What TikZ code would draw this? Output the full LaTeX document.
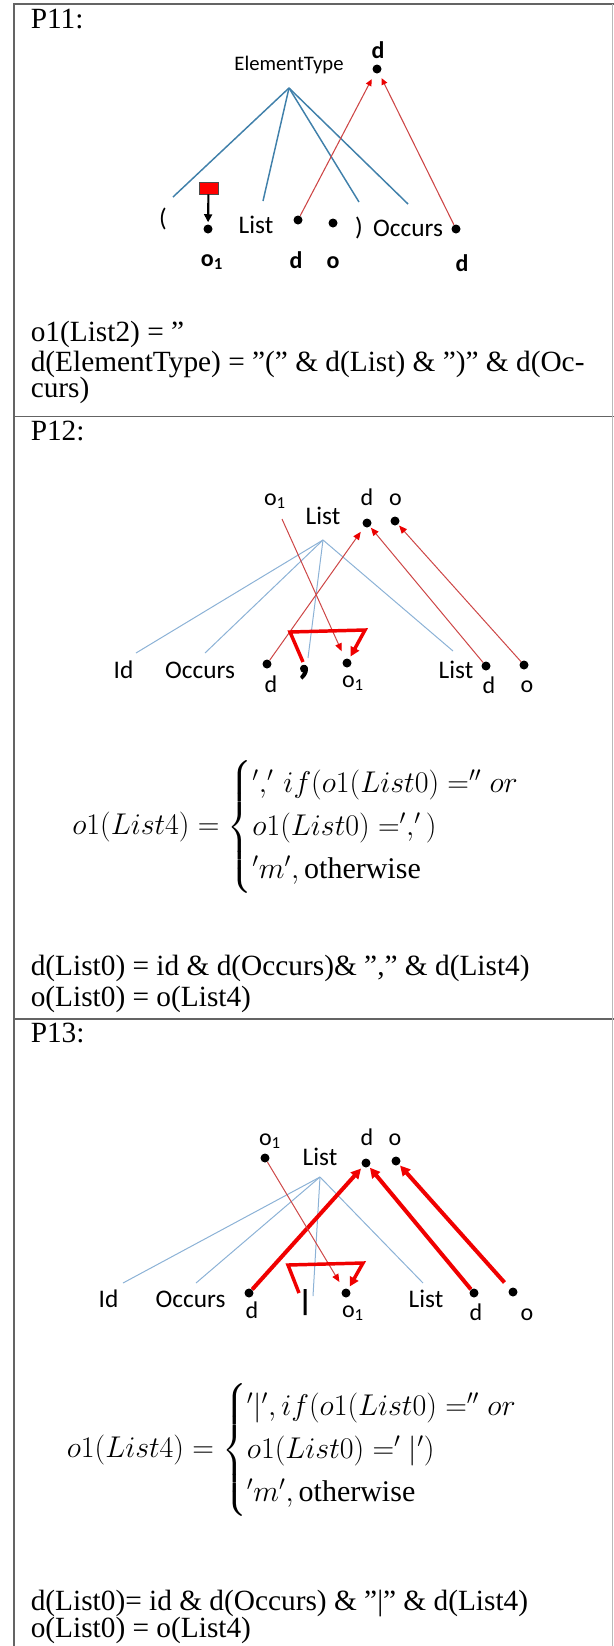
\RequirePackage{fix-cm}
\documentclass[tikz,border=0pt]{standalone}
\usepackage{amsmath}
\usepackage{fontspec}
\setmainfont{Liberation Serif}
\newfontfamily\calfont{Carlito}
\newfontfamily\calheavy[FakeBold=4]{Carlito}
\usetikzlibrary{arrows.meta}
\definecolor{treeblue}{RGB}{64,128,170}
\definecolor{treelight}{RGB}{140,178,214}
\definecolor{redthin}{RGB}{205,70,70}
\definecolor{redhead}{RGB}{235,0,0}
\definecolor{redbold}{RGB}{240,0,0}
\definecolor{bordergray}{RGB}{100,100,100}
\definecolor{edgegray}{RGB}{185,185,185}
\begin{document}
\begin{tikzpicture}[x=0.75pt,y=-0.75pt,
  body/.style={font=\fontsize{22}{26}\selectfont, inner sep=0, anchor=base west},
  word/.style={font=\calfont\fontsize{19}{22}\selectfont, inner sep=0, anchor=base},
  etword/.style={font=\calfont\fontsize{15.5}{18}\selectfont, inner sep=0, anchor=base},
  small/.style={font=\calfont\fontsize{18}{20}\selectfont, inner sep=0, anchor=base},
  bsmall/.style={font=\calfont\bfseries\fontsize{18}{20}\selectfont, inner sep=0, anchor=base},
  blackdot/.style={circle, fill=black, inner sep=0, minimum size=6.75pt},
  treeA/.style={draw=treeblue, line width=1.1pt},
  treeB/.style={draw=treelight, line width=0.75pt},
  redA/.style={draw=redthin, line width=0.8pt, -{Triangle[length=5pt,width=4.5pt,color=redhead]}},
  redB/.style={draw=redthin, line width=0.75pt, -{Triangle[length=6pt,width=5pt,color=redhead]}},
  redC/.style={draw=redbold, line width=3pt, -{Triangle[length=7.5pt,width=7.5pt]}},
  brk/.style={draw=redbold, line width=2.6pt, line join=miter, -{Triangle[length=7pt,width=7pt]}},
  border/.style={draw=bordergray, line width=1.1pt},
  eq/.style={inner sep=0, anchor=west, font=\fontsize{22.5}{27}\selectfont}
]
\useasboundingbox (0,0) rectangle (614,1646);

% table lines
\draw[border] (14,1646) -- (14,4) -- (614,4);
\draw[border] (14,416.7) -- (614,416.7);
\draw[border] (14,1019) -- (614,1019);
\draw[draw=edgegray, line width=0.9pt] (612.7,4) -- (612.7,1646);

% ================= P11 =================
\node[body] (p11) at (30.5,28) {P11:};
\node[etword] (et) at (289,70) {ElementType};
\coordinate (a1) at (289,88);
\node[font=\calfont\fontsize{19}{22}\selectfont, inner sep=0] (lp) at (163,219) {(};
\node[word] (list11) at (256,233) {List};
\node[font=\calfont\fontsize{19}{22}\selectfont, inner sep=0] (rp) at (359,228) {)};
\node[word] (occ11) at (408,236) {Occurs};
\coordinate (e11a) at (173,197);
\coordinate (e11b) at (263,201);
\coordinate (e11c) at (359,202);
\coordinate (e11d) at (408,204);
\draw[treeA] (a1) -- (e11a);
\draw[treeA] (a1) -- (e11b);
\draw[treeA] (a1) -- (e11c);
\draw[treeA] (a1) -- (e11d);

\node[blackdot] (o1d11) at (208,229) {};
\node[blackdot] (dd11) at (298,220) {};
\node[blackdot] (od11) at (333,223) {};
\node[blackdot] (rd11) at (456,229) {};
\node[blackdot] (td11) at (377,69) {};
\node[bsmall] (lo111) at (212,266) {o\textsubscript{1}};
\node[bsmall] (ld11) at (296,268) {d};
\node[bsmall] (lo11) at (333,268) {o};
\node[bsmall] (lrd11) at (462,271) {d};
\node[bsmall] (ltd11) at (378,58) {d};

\node[draw=black!70, fill=red, line width=0.5pt, minimum width=14.25pt, minimum height=9pt, inner sep=0] (rect11) at (208.5,188) {};
\draw[black, line width=1.6pt, shorten >=1.5pt, -{Triangle[length=6pt,width=6pt]}] (rect11) -- (o1d11);

\draw[redA, shorten >=5pt] (dd11) -- (td11);
\draw[redA, shorten >=4pt] (rd11) -- (td11);

\node[body] (t11a) at (30.5,341.5) {o1(List2) = ”};
\node[body] (t11b) at (30.5,371.5) {d(ElementType) = ”(” \& d(List) \& ”)” \& d(Oc-};
\node[body] (t11c) at (30.5,397) {curs)};

% ================= P12 =================
\node[body] (p12) at (30.5,440) {P12:};
\node[small] (to1l12) at (275,505) {o\textsubscript{1}};
\node[word] (tlist12) at (323,524) {List};
\node[small] (tdl12) at (367,505) {d};
\node[small] (tol12) at (395.5,505) {o};
\node[blackdot] (td12) at (367,523) {};
\node[blackdot] (to12) at (395,521) {};
\coordinate (o1s12) at (282,519);
\coordinate (a2) at (323,540);

\node[word] (id12) at (123.5,678) {Id};
\node[word] (occ12) at (200,678.5) {Occurs};
\node[blackdot] (bd12) at (267,664) {};
\node[small] (bdl12) at (271,692) {d};
\node[font=\calheavy\fontsize{38}{40}\selectfont, inner sep=0] (comma12) at (304,672) {,};
\node[blackdot] (bo112) at (347,663) {};
\node[small] (bo1l12) at (353,687) {o\textsubscript{1}};
\node[word] (list12) at (456,678) {List};
\node[blackdot] (rd12) at (486,666) {};
\node[small] (rdl12) at (489,693) {d};
\node[blackdot] (ro12) at (524,665) {};
\node[small] (rol12) at (527,692) {o};

\coordinate (e12a) at (136,653);
\coordinate (e12b) at (205,653);
\coordinate (e12c) at (308,658);
\coordinate (e12d) at (453,651);
\draw[treeB] (a2) -- (e12a);
\draw[treeB] (a2) -- (e12b);
\draw[treeB] (a2) -- (e12c);
\draw[treeB] (a2) -- (e12d);

\draw[redB, shorten >=4.5pt] (bd12) -- (td12);
\draw[redB, shorten >=1pt] (rd12) -- (td12);
\draw[redB, shorten >=1pt] (ro12) -- (to12);
\draw[redB, shorten >=6pt] (o1s12) -- (bo112);

\coordinate (c12s) at (303,662);
\draw[brk, shorten >=2pt] (c12s) -- (290,632) -- (365,630) -- (bo112);

\node[eq] (eq12) at (72,827) {$o1(List4) = \begin{cases} ','\, if(o1(List0) ='' or\\ o1(List0) =',')\\ 'm', \text{otherwise}\end{cases}$};

\node[body] (t12a) at (30.5,975.5) {d(List0) = id \& d(Occurs)\& ”,” \& d(List4)};
\node[body] (t12b) at (30.5,1006.5) {o(List0) = o(List4)};

% ================= P13 =================
\node[body] (p13) at (30.5,1042) {P13:};
\node[small] (to1l13) at (270,1145) {o\textsubscript{1}};
\node[blackdot] (to113) at (265,1158) {};
\node[word] (tlist13) at (320,1165) {List};
\node[small] (tdl13) at (367,1145) {d};
\node[small] (tol13) at (395,1145) {o};
\node[blackdot] (td13) at (366,1163) {};
\node[blackdot] (to13) at (396,1161) {};
\coordinate (a3) at (320,1177);

\node[word] (id13) at (108.5,1307) {Id};
\node[word] (occ13) at (190.5,1307) {Occurs};
\node[blackdot] (bd13) at (249,1293) {};
\node[small] (bdl13) at (252,1318) {d};
\node[font=\calheavy\fontsize{21}{24}\selectfont, inner sep=0] (bar13) at (305,1302) {|};
\node[blackdot] (bo113) at (346,1293) {};
\node[small] (bo1l13) at (353,1317) {o\textsubscript{1}};
\node[word] (list13) at (426,1307) {List};
\node[blackdot] (rd13) at (474,1293) {};
\node[small] (rdl13) at (476,1320) {d};
\node[blackdot] (ro13) at (513,1292) {};
\node[small] (rol13) at (527,1320) {o};

\coordinate (e13a) at (123,1283);
\coordinate (e13b) at (196,1283);
\coordinate (e13c) at (313,1296);
\coordinate (e13d) at (423,1283);
\draw[treeB] (a3) -- (e13a);
\draw[treeB] (a3) -- (e13b);
\draw[treeB] (a3) -- (e13c);
\draw[treeB] (a3) -- (e13d);

\draw[redC, shorten >=2pt] (bd13) -- (td13);
\draw[redC, shorten >=1pt] (rd13) -- (td13);
\draw[redC, shorten <=6pt, shorten >=1pt] (ro13) -- (to13);
\draw[redB, shorten >=6pt] (to113) -- (bo113);

\coordinate (c13s) at (299,1293);
\draw[brk, shorten >=2pt] (c13s) -- (288,1265) -- (363,1263) -- (bo113);

\node[eq] (eq13) at (66.5,1450) {$o1(List4) = \begin{cases} '|', if(o1(List0) ='' or\\ o1(List0) =' |')\\ 'm', \text{otherwise}\end{cases}$};

\node[body] (t13a) at (30.5,1610) {d(List0)= id \& d(Occurs) \& ”|” \& d(List4)};
\node[body] (t13b) at (30.5,1637) {o(List0) = o(List4)};
\end{tikzpicture}
\end{document}
